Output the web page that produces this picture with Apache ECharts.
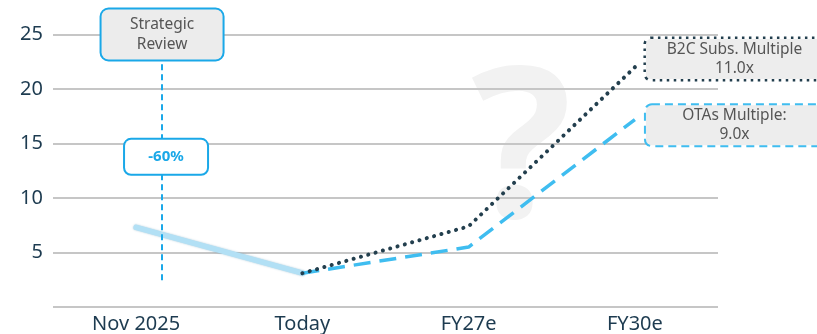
<!DOCTYPE html>
<html>
<head>
<meta charset="utf-8">
<script src="https://cdn.jsdelivr.net/npm/echarts@6/dist/echarts.min.js"></script>
<style>
html,body{margin:0;padding:0;background:#fff;}
#c{width:817px;height:334px;}
</style>
</head>
<body>
<div id="c"></div>
<script>
// ---- data ----
var categories = ['Nov 2025', 'Today', 'FY27e', 'FY30e'];
var historyValues = [7.3, 3.1, null, null];
var b2cValues = [null, 3.1, 7.4, 22.0];
var otaValues = [null, 3.1, 5.5, 17.2];
var yTicks = [0, 5, 10, 15, 20, 25];
var reviewLabel = 'Strategic\nReview';
var dropLabel = '-60%';
var b2cLabel = 'B2C Subs. Multiple\n11.0x';
var otaLabel = 'OTAs Multiple:\n9.0x';
// annotation anchors (data coordinates)
var reviewX = 0.156;
var dropX = 0.18;
var reviewLineY = [2.5, 23];
var reviewBoxY = 25;
var dropBoxY = 13.8;
var sideBoxX = 3.656;
var b2cBoxY = 22.75;
var otaBoxY = 16.7;

function toPairs(vals) {
  var out = [];
  vals.forEach(function (v, i) { if (v !== null) out.push([i, v]); });
  return out;
}

var FONT = '"Noto Sans", sans-serif';
var BLUE = '#1aa8e8';
var DARK = '#233f4e';
var AXIS = '#1d3b50';
var W = 817, GL = 53, GR = 99;
var unit = (W - GL - GR) / 4; // px per category on main axis
var annotMax = -0.5 + (W - GL) / unit;

var chart = echarts.init(document.getElementById('c'), null, {renderer: 'canvas'});
chart.setOption({
  animation: false,
  backgroundColor: '#ffffff',
  textStyle: {fontFamily: FONT},
  grid: [
    {left: GL, right: GR, top: 34.5, bottom: 26.5, containLabel: false},
    {left: GL, right: 0, top: 34.5, bottom: 26.5, containLabel: false}
  ],
  graphic: [{
    type: 'text', z: 0, left: 471, top: 52, silent: true,
    style: {text: '?', font: 'bold 210px ' + FONT, fill: '#f2f2f2'}
  }],
  xAxis: [{
    type: 'value', min: -0.5, max: 3.5, gridIndex: 0,
    axisLine: {show: false}, axisTick: {show: false}, splitLine: {show: false},
    axisLabel: {
      customValues: [0, 1, 2, 3],
      formatter: function (v) { return categories[Math.round(v)] || ''; },
      color: AXIS, fontSize: 20, fontFamily: FONT, margin: 7
    }
  }, {
    type: 'value', min: -0.5, max: annotMax, gridIndex: 1, show: false
  }],
  yAxis: [{
    type: 'value', min: yTicks[0], max: yTicks[yTicks.length - 1], interval: 5, gridIndex: 0,
    axisLine: {show: false}, axisTick: {show: false},
    splitLine: {lineStyle: {color: '#c6c6c6', width: 2}},
    axisLabel: {
      formatter: function (v) { return v === 0 ? '' : String(v); },
      color: AXIS, fontSize: 20, fontFamily: FONT, margin: 10
    }
  }, {
    type: 'value', min: yTicks[0], max: yTicks[yTicks.length - 1], gridIndex: 1, show: false
  }],
  series: [
    {
      type: 'line', name: 'history', data: toPairs(historyValues), symbol: 'none', z: 3,
      lineStyle: {color: '#b2e0f5', width: 5.5, shadowColor: 'rgba(40,120,160,0.4)', shadowBlur: 2, cap: 'round'}
    },
    {
      type: 'line', name: 'B2C', data: toPairs(b2cValues), symbol: 'none', z: 4,
      lineStyle: {color: DARK, width: 4, type: [0.1, 7.5], cap: 'round'}
    },
    {
      type: 'line', name: 'OTAs', data: toPairs(otaValues), symbol: 'none', z: 3,
      lineStyle: {color: '#3fbdf0', width: 3.5, type: [17, 9]}
    },
    {
      type: 'line', name: 'annot', data: [], symbol: 'none', clip: false, z: 6,
      xAxisIndex: 1, yAxisIndex: 1,
      markLine: {
        silent: true, symbol: ['none', 'none'], z: 5,
        lineStyle: {color: BLUE, width: 2, type: [6, 4]},
        label: {show: false},
        data: [[{coord: [reviewX, reviewLineY[0]]}, {coord: [reviewX, reviewLineY[1]]}]]
      },
      markPoint: {
        silent: true, symbol: 'rect', symbolSize: 0, z: 10,
        data: [
          {coord: [reviewX, reviewBoxY], label: {
            show: true, position: 'inside', formatter: reviewLabel,
            color: '#555555', fontSize: 15.5, fontFamily: FONT, lineHeight: 20, align: 'center',
            backgroundColor: '#ececec', borderColor: BLUE, borderWidth: 2, borderRadius: 7,
            width: 117, height: 46, padding: [2, 2, 2, 2]
          }},
          {coord: [dropX, dropBoxY], label: {
            show: true, position: 'inside', formatter: dropLabel,
            color: BLUE, fontSize: 15, fontWeight: 'bold', fontFamily: FONT, align: 'center',
            backgroundColor: '#ffffff', borderColor: BLUE, borderWidth: 2, borderRadius: 6,
            width: 80, height: 34, lineHeight: 34, padding: [0, 1, 0, 1]
          }},
          {coord: [sideBoxX, b2cBoxY], label: {
            show: true, position: 'inside', formatter: b2cLabel,
            color: '#555555', fontSize: 15.5, fontFamily: FONT, lineHeight: 19, align: 'center',
            backgroundColor: '#ededed', borderColor: DARK, borderWidth: 2.5, borderType: [2.5, 4.5],
            borderRadius: 5,
            width: 175, height: 38, padding: [1, 20, 1, 1]
          }},
          {coord: [sideBoxX, otaBoxY], label: {
            show: true, position: 'inside', formatter: otaLabel,
            color: '#555555', fontSize: 15.5, fontFamily: FONT, lineHeight: 19, align: 'center',
            backgroundColor: '#ededed', borderColor: '#3fbdf0', borderWidth: 2, borderType: [8, 5],
            borderRadius: 6,
            width: 175, height: 38, padding: [1, 20, 1, 1]
          }}
        ]
      }
    }
  ]
});
</script>
</body>
</html>
